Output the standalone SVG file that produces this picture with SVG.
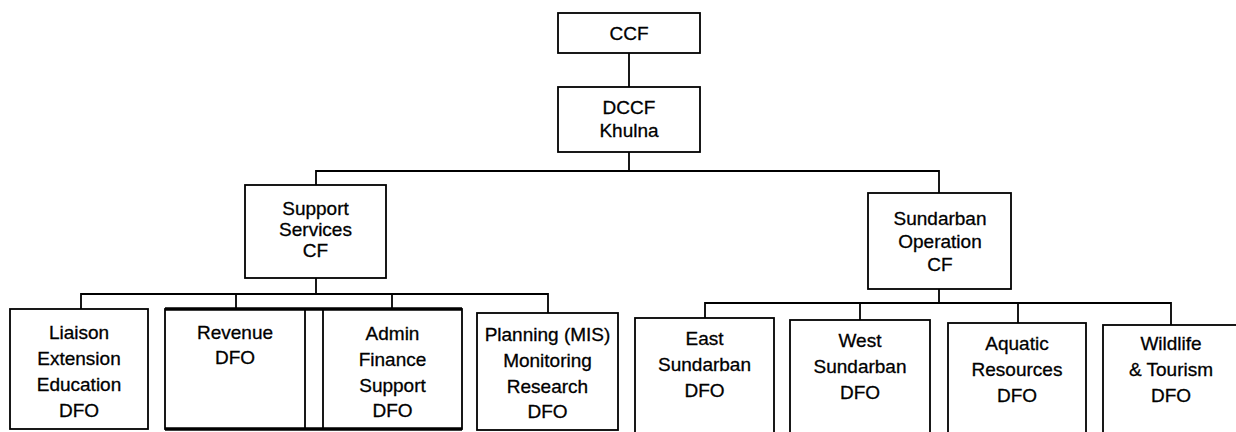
<svg xmlns="http://www.w3.org/2000/svg" width="1236" height="432" viewBox="0 0 1236 432">
<style>
.box{fill:#fff;stroke:#000;stroke-width:1.8}
.thick{stroke:#000;stroke-width:3.5;fill:none}
.conn{stroke:#000;stroke-width:1.8;fill:none}
text{font-family:"Liberation Sans",Arial,sans-serif;font-size:19px;fill:#000;stroke:#000;stroke-width:0.3;text-anchor:middle;dominant-baseline:central}
</style>
<rect width="1236" height="432" fill="#fff"/>
<g id="connectors">
<path class="conn" d="M629 53V87"/>
<path class="conn" d="M629 152V171"/>
<path class="conn" d="M316 185V171H939V193"/>
<path class="conn" d="M316 278V294"/>
<path class="conn" d="M81 309V294H548V313"/>
<path class="conn" d="M236 294V309"/>
<path class="conn" d="M392 294V310"/>
<path class="conn" d="M939 289V303"/>
<path class="conn" d="M705 318V303H1171V325"/>
<path class="conn" d="M860 303V320"/>
<path class="conn" d="M1018 303V323"/>
</g>
<g id="ccf">
<rect class="box" x="558" y="13" width="142" height="40"/>
<text x="629" y="33">CCF</text>
</g>
<g id="dccf">
<rect class="box" x="558" y="87" width="142" height="65"/>
<text x="629" y="107">DCCF</text>
<text x="629" y="130">Khulna</text>
</g>
<g id="support">
<rect class="box" x="245" y="185" width="141" height="93"/>
<text x="315.5" y="208">Support</text>
<text x="315.5" y="229">Services</text>
<text x="315.5" y="250">CF</text>
</g>
<g id="sundarban">
<rect class="box" x="868" y="193" width="143" height="96"/>
<text x="940" y="218">Sundarban</text>
<text x="940" y="241">Operation</text>
<text x="940" y="264">CF</text>
</g>
<g id="liaison">
<rect class="box" x="10" y="309" width="138" height="120"/>
<text x="79" y="332">Liaison</text>
<text x="79" y="358">Extension</text>
<text x="79" y="384">Education</text>
<text x="79" y="410">DFO</text>
</g>
<g id="revenue">
<rect class="box" x="165" y="309" width="140" height="120"/>
<text x="235" y="332">Revenue</text>
<text x="235" y="357">DFO</text>
</g>
<g id="admin">
<rect class="box" x="323" y="309" width="139" height="120"/>
<text x="392.5" y="333">Admin</text>
<text x="392.5" y="359">Finance</text>
<text x="392.5" y="385">Support</text>
<text x="392.5" y="410">DFO</text>
</g>
<g id="revenue-admin-frame">
<path class="thick" d="M165 309H462M165 429H462"/>
</g>
<g id="planning">
<rect class="box" x="477" y="313" width="141" height="117"/>
<text x="547.5" y="334">Planning (MIS)</text>
<text x="547.5" y="360">Monitoring</text>
<text x="547.5" y="386">Research</text>
<text x="547.5" y="411">DFO</text>
</g>
<g id="east">
<rect class="box" x="635" y="318" width="139" height="130"/>
<text x="704.5" y="338">East</text>
<text x="704.5" y="364">Sundarban</text>
<text x="704.5" y="390">DFO</text>
</g>
<g id="west">
<rect class="box" x="790" y="320" width="140" height="130"/>
<text x="860" y="340">West</text>
<text x="860" y="366">Sundarban</text>
<text x="860" y="392">DFO</text>
</g>
<g id="aquatic">
<rect class="box" x="948" y="323" width="138" height="130"/>
<text x="1017" y="343">Aquatic</text>
<text x="1017" y="369">Resources</text>
<text x="1017" y="395">DFO</text>
</g>
<g id="wildlife">
<rect class="box" x="1103" y="325" width="140" height="130"/>
<text x="1171" y="343">Wildlife</text>
<text x="1171" y="369">&amp; Tourism</text>
<text x="1171" y="395">DFO</text>
</g>
</svg>
